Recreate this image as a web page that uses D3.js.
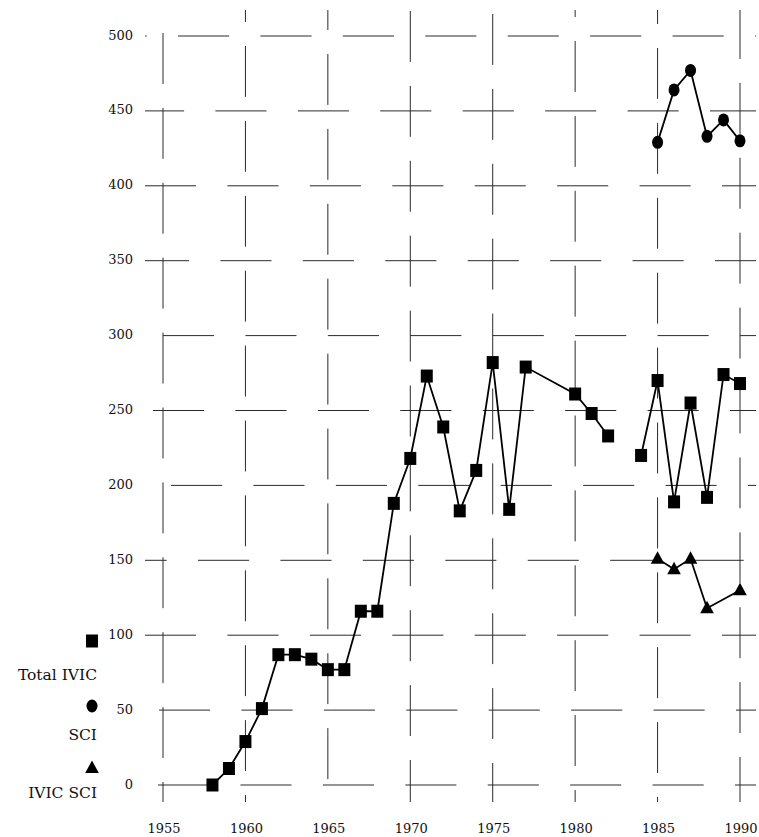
<!DOCTYPE html>
<html>
<head>
<meta charset="utf-8">
<script src="https://cdn.jsdelivr.net/npm/d3@7"></script>
<style>
  html, body { margin: 0; padding: 0; background: #fff; }
  svg { display: block; }
  text { font-family: "DejaVu Serif", "Liberation Serif", serif; fill: #111; }
</style>
</head>
<body>
<svg id="chart" width="759" height="837"></svg>
<script>
// Publication counts per year
const totalYears = [1958, 1959, 1960, 1961, 1962, 1963, 1964, 1965, 1966, 1967, 1968,
                    1969, 1970, 1971, 1972, 1973, 1974, 1975, 1976, 1977, 1980, 1981,
                    1982, 1983, 1984, 1985, 1986, 1987, 1988, 1989, 1990];
const totalIVIC  = [0, 11, 29, 51, 87, 87, 84, 77, 77, 116, 116,
                    188, 218, 273, 239, 183, 210, 282, 184, 279, 261, 248,
                    233, null, 220, 270, 189, 255, 192, 274, 268];

const sciYears = [1985, 1986, 1987, 1988, 1989, 1990];
const sci      = [429, 464, 477, 433, 444, 430];

const ivicSciYears = [1985, 1986, 1987, 1988, 1990];
const ivicSci      = [151, 144, 151, 118, 130];

const xTicks = [1955, 1960, 1965, 1970, 1975, 1980, 1985, 1990];
const yTicks = [0, 50, 100, 150, 200, 250, 300, 350, 400, 450, 500];

const legendLabels = ["Total IVIC", "SCI", "IVIC SCI"];

const svg = d3.select("#chart");

const x = d3.scaleLinear().domain([1955, 1990]).range([163, 740]);
const y = d3.scaleLinear().domain([0, 500]).range([785, 36]);

// Broken grid: dashed rules, each row/column with its own phase
const rowPhase = [-5, -4, -18, 35, 8, -10, 0, -25, -18, -30, 15];
const colPhase = [-3, 10, 18, -25, -22, 5, 12, -28];
const xStep = x(1960) - x(1955);
const yStep = y(0) - y(50);
const grid = svg.append("g").attr("stroke", "#2a2a2a").attr("stroke-width", 1);

grid.selectAll("line.h").data(yTicks).join("line")
  .attr("class", "h")
  .attr("x1", 145).attr("x2", 756)
  .attr("y1", d => y(d)).attr("y2", d => y(d))
  .attr("stroke-dasharray", `${xStep * 0.62} ${xStep * 0.38}`)
  .attr("stroke-dashoffset", (d, i) => -((x(1955) + rowPhase[i] - 145) % xStep + xStep) % xStep - 0 + 0)
  .each(function(d, i) {
    // dash pattern starts at x1; shift so dashes begin at the row phase
    const start = x(1955) + rowPhase[i] - 145;
    const off = xStep - (((start % xStep) + xStep) % xStep);
    d3.select(this).attr("stroke-dashoffset", off);
  });

grid.selectAll("line.v").data(xTicks).join("line")
  .attr("class", "v")
  .attr("x1", d => x(d)).attr("x2", d => x(d))
  .attr("y1", 10).attr("y2", 802)
  .attr("stroke-dasharray", `${yStep * 0.68} ${yStep * 0.32}`)
  .each(function(d, i) {
    const start = y(500) + colPhase[i] - 10;
    const off = yStep - (((start % yStep) + yStep) % yStep);
    d3.select(this).attr("stroke-dashoffset", off);
  });

// Axis labels
svg.append("g").selectAll("text").data(yTicks).join("text")
  .attr("x", 133).attr("y", d => y(d) - 1)
  .attr("dy", "0.35em")
  .attr("text-anchor", "end")
  .attr("font-size", 13)
  .text(d => d);

svg.append("g").selectAll("text").data(xTicks).join("text")
  .attr("x", d => x(d) + 1).attr("y", 833)
  .attr("text-anchor", "middle")
  .attr("font-size", 13)
  .text(d => d);

// Series lines
const line = d3.line()
  .defined(d => d[1] !== null)
  .x(d => x(d[0])).y(d => y(d[1]));

const totalPts = totalYears.map((yr, i) => [yr, totalIVIC[i]]);
const sciPts = sciYears.map((yr, i) => [yr, sci[i]]);
const ivicSciPts = ivicSciYears.map((yr, i) => [yr, ivicSci[i]]);

const lines = svg.append("g").attr("fill", "none").attr("stroke", "#000").attr("stroke-width", 1.8);
lines.append("path").attr("d", line(totalPts));
lines.append("path").attr("d", line(sciPts));
lines.append("path").attr("d", line(ivicSciPts));

// Markers
const squarePath = "M-6,-6.5H6V6.5H-6Z";
const trianglePath = "M0,-7.5L6.8,5L-6.8,5Z";

svg.append("g").selectAll("path").data(totalPts.filter(d => d[1] !== null)).join("path")
  .attr("d", squarePath)
  .attr("transform", d => `translate(${x(d[0])},${y(d[1])})`)
  .attr("fill", "#000");

svg.append("g").selectAll("ellipse").data(sciPts).join("ellipse")
  .attr("cx", d => x(d[0])).attr("cy", d => y(d[1]))
  .attr("rx", 5.5).attr("ry", 6.5)
  .attr("fill", "#000");

svg.append("g").selectAll("path").data(ivicSciPts).join("path")
  .attr("d", trianglePath)
  .attr("transform", d => `translate(${x(d[0])},${y(d[1])})`)
  .attr("fill", "#000");

// Legend
const legend = svg.append("g");
legend.append("path").attr("d", squarePath).attr("transform", "translate(92,641)").attr("fill", "#000");
legend.append("ellipse").attr("cx", 92).attr("cy", 706).attr("rx", 5.5).attr("ry", 6.5).attr("fill", "#000");
legend.append("path").attr("d", trianglePath).attr("transform", "translate(92,768)").attr("fill", "#000");
legend.selectAll("text").data(legendLabels).join("text")
  .attr("x", 97)
  .attr("y", (d, i) => [680, 740, 798][i])
  .attr("text-anchor", "end")
  .attr("font-size", 15.5)
  .text(d => d);
</script>
</body>
</html>
